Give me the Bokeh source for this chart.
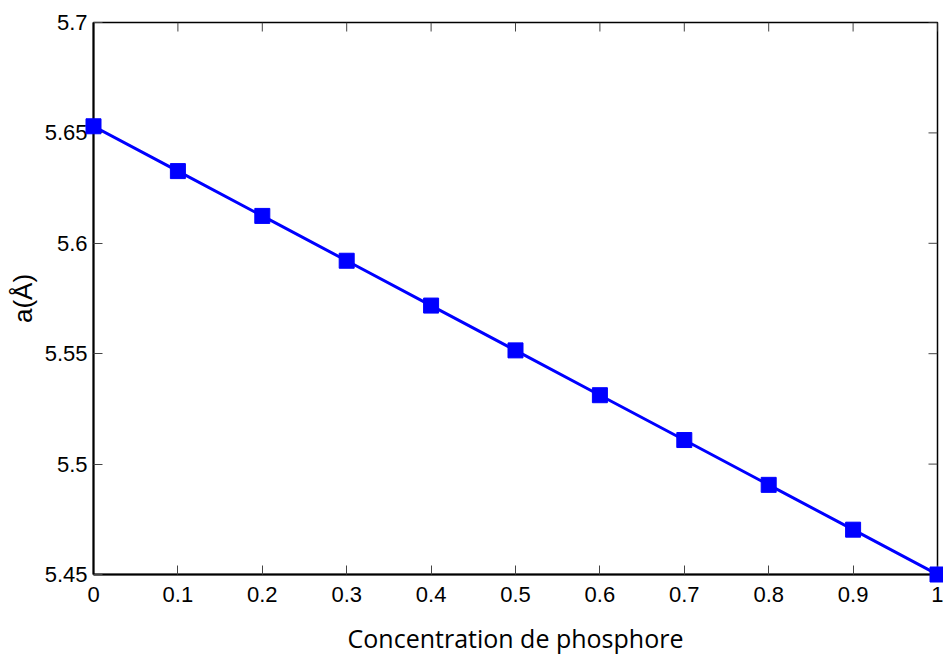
import math
from bokeh.plotting import figure
from bokeh.models import Range1d, FixedTicker
from bokeh.embed import file_html
from bokeh.resources import INLINE

concentration = [0.0, 0.1, 0.2, 0.3, 0.4, 0.5, 0.6, 0.7, 0.8, 0.9, 1.0]
lattice_a = [5.653, 5.6327, 5.6124, 5.5921, 5.5718, 5.5515, 5.5312, 5.5109, 5.4906, 5.4703, 5.450]
x_ticks = [0, 0.1, 0.2, 0.3, 0.4, 0.5, 0.6, 0.7, 0.8, 0.9, 1]
y_ticks = [5.45, 5.5, 5.55, 5.6, 5.65, 5.7]
x_label = "Concentration de phosphore"
y_label = "a(Å)"

x_lo, x_hi = 0, 1
y_lo, y_hi = 5.45, 5.7

p = figure(width=943, height=657, output_backend="svg", toolbar_location=None,
           x_range=Range1d(x_lo, x_hi), y_range=Range1d(y_lo, y_hi),
           min_border_left=93, min_border_right=6, min_border_top=22, min_border_bottom=82)
p.background_fill_color = "white"
p.border_fill_color = "white"
p.grid.visible = False
p.outline_line_color = "black"
p.outline_line_width = 1.5

tick_color = "#444444"

p.xaxis.ticker = FixedTicker(ticks=x_ticks)
p.yaxis.ticker = FixedTicker(ticks=y_ticks)
p.xaxis.axis_label = x_label
p.yaxis.axis_label = y_label
for ax in (p.xaxis[0], p.yaxis[0]):
    ax.major_tick_in = 9
    ax.major_tick_out = 0
    ax.minor_tick_in = 0
    ax.minor_tick_out = 0
    ax.major_tick_line_color = tick_color
    ax.major_tick_line_width = 1
    ax.axis_line_color = "black"
    ax.axis_line_width = 2
    ax.major_label_text_font = "Liberation Sans"
    ax.major_label_text_font_size = "22px"
    ax.major_label_text_color = "black"
    ax.major_label_text_line_height = 1.0
    ax.axis_label_text_color = "black"
    ax.axis_label_text_font_style = "normal"
    ax.axis_label_text_line_height = 1.0

p.xaxis.major_label_standoff = 12
p.yaxis.major_label_standoff = 6
p.xaxis.axis_label_text_font = "Open Sans"
p.xaxis.axis_label_text_font_size = "25px"
p.xaxis.axis_label_standoff = 16
p.yaxis.axis_label_text_font = "Liberation Sans"
p.yaxis.axis_label_text_font_size = "26px"
p.yaxis.axis_label_standoff = 4
p.xaxis.major_label_overrides = {0: "0", 1: "1"}

# inward tick marks along the top and right edges
p.ray(x=x_ticks, y=[y_hi] * len(x_ticks), length=9, length_units="screen",
      angle=-math.pi / 2, line_color=tick_color, line_width=1)
p.ray(x=[x_hi] * len(y_ticks), y=y_ticks, length=9, length_units="screen",
      angle=math.pi, line_color=tick_color, line_width=1)

p.line(concentration, lattice_a, line_color="#0000ff", line_width=3)
pts = p.scatter(concentration, lattice_a, marker="square", size=15, fill_color="#0000ff",
                line_color="#0000ff")
pts.level = "overlay"

open("out.html", "w").write(file_html(p, INLINE))
